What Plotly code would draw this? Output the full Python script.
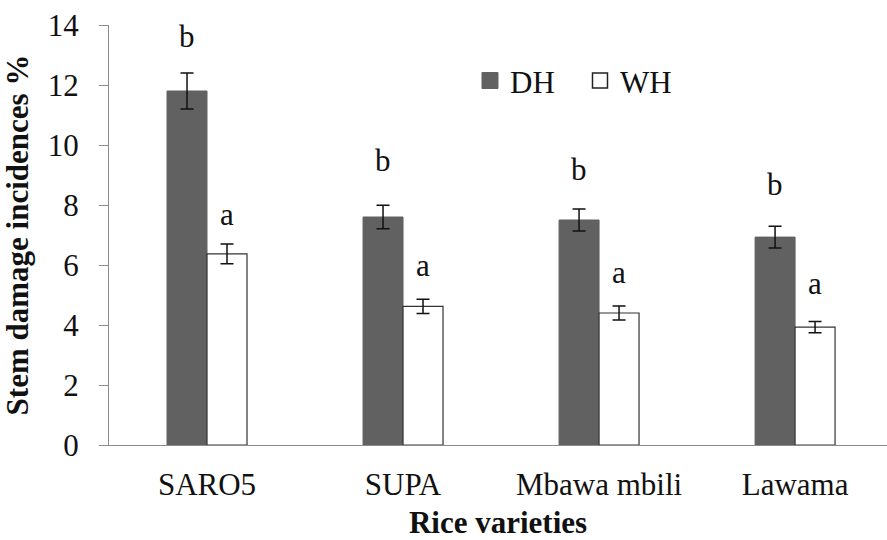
import plotly.graph_objects as go

varieties = ["SARO5", "SUPA", "Mbawa mbili", "Lawama"]
dh_values = [11.8, 7.6, 7.5, 6.93]
dh_errors = [0.6, 0.39, 0.37, 0.36]
wh_values = [6.37, 4.62, 4.4, 3.93]
wh_errors = [0.33, 0.24, 0.23, 0.19]
dh_letters = ["b", "b", "b", "b"]
wh_letters = ["a", "a", "a", "a"]
dh_letter_y = [13.63, 9.47, 9.2, 8.7]
wh_letter_y = [7.7, 5.97, 5.74, 5.37]

FONT = "Liberation Serif"
DH_COLOR = "#616161"
TXT = "#111111"

fig = go.Figure()

fig.add_trace(go.Bar(
    x=varieties, y=dh_values, name="DH", showlegend=False,
    marker=dict(color=DH_COLOR, line=dict(color=DH_COLOR, width=1)),
    error_y=dict(type="data", array=dh_errors, color=TXT, thickness=1.5, width=6.5),
    offsetgroup="DH",
))
fig.add_trace(go.Bar(
    x=varieties, y=wh_values, name="WH", showlegend=False,
    marker=dict(color="white", line=dict(color="#333333", width=1.2)),
    error_y=dict(type="data", array=wh_errors, color=TXT, thickness=1.5, width=6.5),
    offsetgroup="WH",
))

# legend entries drawn as square markers
fig.add_trace(go.Scatter(
    x=[None], y=[None], mode="markers", name="DH",
    marker=dict(symbol="square", size=16, color=DH_COLOR, line=dict(color=DH_COLOR, width=1)),
))
fig.add_trace(go.Scatter(
    x=[None], y=[None], mode="markers", name="WH",
    marker=dict(symbol="square", size=15, color="white", line=dict(color="#222222", width=1.5)),
))

# significance letters above each bar
for i, v in enumerate(varieties):
    fig.add_annotation(x=v, y=dh_letter_y[i], text=dh_letters[i], showarrow=False,
                       xshift=-20, yanchor="middle", font=dict(family=FONT, size=31, color=TXT))
    fig.add_annotation(x=v, y=wh_letter_y[i], text=wh_letters[i], showarrow=False,
                       xshift=20, yanchor="middle", font=dict(family=FONT, size=31, color=TXT))

fig.update_layout(
    width=887, height=540,
    margin=dict(l=109, r=0, t=25, b=95),
    paper_bgcolor="white", plot_bgcolor="white",
    barmode="group", bargap=0.592, bargroupgap=0,
    font=dict(family=FONT, size=31, color=TXT),
    legend=dict(
        orientation="h", x=0.464, y=0.867, xanchor="left", yanchor="middle",
        entrywidth=65, entrywidthmode="pixels",
        font=dict(family=FONT, size=31, color=TXT),
        bgcolor="rgba(0,0,0,0)", itemsizing="trace",
    ),
    xaxis=dict(
        type="category", range=[-0.5, 3.469],
        showline=True, linecolor="#8c8c8c", linewidth=1.3,
        ticks="", showgrid=False, zeroline=False,
        tickfont=dict(family=FONT, size=31, color=TXT),
        ticklabelstandoff=12,
        title=dict(text="<b>Rice varieties</b>", standoff=9,
                   font=dict(family=FONT, size=31, color=TXT)),
    ),
    yaxis=dict(
        range=[0, 14], tickvals=[0, 2, 4, 6, 8, 10, 12, 14],
        showline=True, linecolor="#8c8c8c", linewidth=1.3,
        ticks="outside", ticklen=9, tickcolor="#8c8c8c", tickwidth=1.3,
        showgrid=False, zeroline=False,
        tickfont=dict(family=FONT, size=31, color=TXT),
        ticklabelstandoff=14,
        title=dict(text="<b>Stem damage incidences %</b>", standoff=10,
                   font=dict(family=FONT, size=31, color=TXT)),
    ),
)

fig.write_html("out.html")
